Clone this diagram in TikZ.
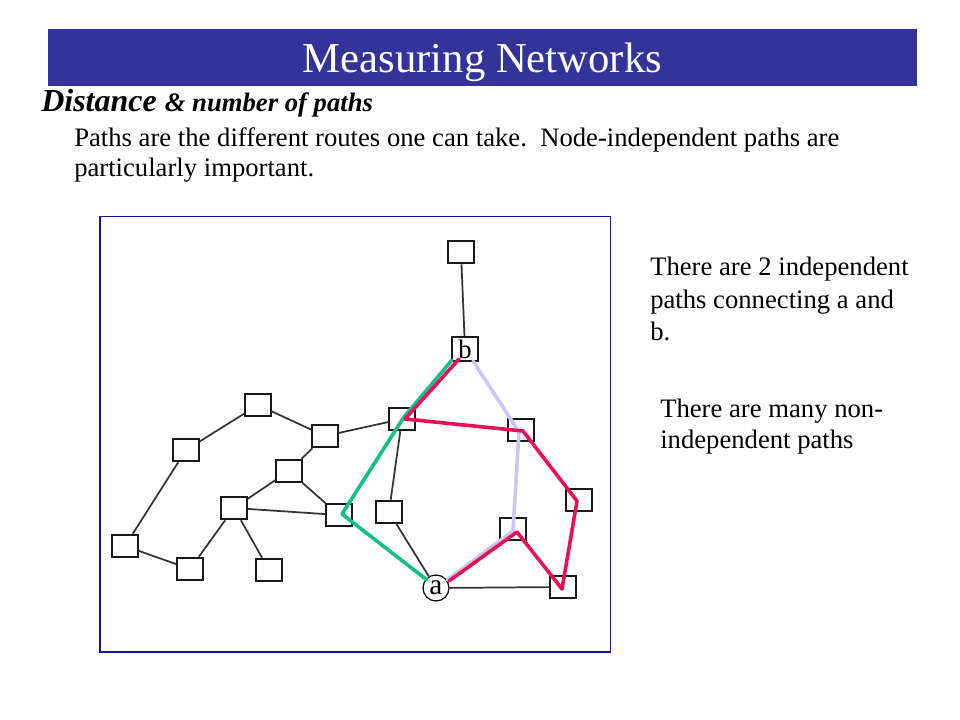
\documentclass[tikz,border=0pt]{standalone}
\usepackage{fontspec}
\setmainfont{Liberation Serif}
\definecolor{barblue}{RGB}{51,51,153}
\definecolor{framblue}{RGB}{20,20,150}
\definecolor{pgreen}{RGB}{22,190,140}
\definecolor{pred}{RGB}{232,16,90}
\definecolor{plav}{RGB}{200,200,240}
\begin{document}
\begin{tikzpicture}[x=0.75pt,y=-0.75pt,
  box/.style={draw=black!90,fill=white,line width=1.4pt,minimum width=19pt,minimum height=17pt,inner sep=0pt,font=\fontsize{20}{21}\selectfont},
  circ/.style={draw=black,fill=white,line width=0.9pt,circle,minimum size=19.5pt,inner sep=0pt,font=\fontsize{22}{23}\selectfont},
  edge/.style={draw=black!80,line width=1.3pt},
  pathline/.style={line width=2.7pt,line join=round,line cap=round},
  txt/.style={anchor=base west,inner sep=0pt}]
\useasboundingbox (0,0) rectangle (960,720);
\fill[white] (0,0) rectangle (960,720);
% title bar
\fill[barblue] (48,29) rectangle (917,86);
\node[anchor=base,inner sep=0pt,text=white,font=\fontsize{32}{38}\selectfont] (title) at (482.5,73) {Measuring Networks};
\node[txt,font=\bfseries\itshape] (sub) at (41,112) {{\fontsize{24}{28}\selectfont Distance}\hspace{6pt}{\fontsize{20}{24}\selectfont \& number of paths}};
\node[txt,font=\fontsize{20}{24}\selectfont] (body1) at (74,147) {Paths are the different routes one can take.\ \ Node-independent paths are};
\node[txt,font=\fontsize{20}{24}\selectfont] (body2) at (74,177) {particularly important.};
\node[txt,font=\fontsize{20}{24}\selectfont] (r1) at (650,276) {There are 2 independent};
\node[txt,font=\fontsize{20}{24}\selectfont] (r2) at (650,308) {paths connecting a and};
\node[txt,font=\fontsize{20}{24}\selectfont] (r3) at (650,340) {b.};
\node[txt,font=\fontsize{20}{24}\selectfont] (r4) at (660,417) {There are many non-};
\node[txt,font=\fontsize{20}{24}\selectfont] (r5) at (660,448) {independent paths};
% frame
\draw[framblue,line width=0.9pt] (100,216.5) rectangle (610.5,652);
% nodes
\node[box] (top) at (461,252) {};
\node[box,minimum height=17.5pt] (b) at (465,349) {b};
\node[box] (n1) at (258,405) {};
\node[box] (n2) at (186,450) {};
\node[box] (n3) at (325,436) {};
\node[box] (n4) at (289,471) {};
\node[box] (n5) at (234,508) {};
\node[box] (n6) at (339,515) {};
\node[box] (n7) at (125,546) {};
\node[box] (n8) at (190,569) {};
\node[box] (n9) at (269,570) {};
\node[box] (n10) at (402,419) {};
\node[box] (n11) at (521,430) {};
\node[box] (n12) at (389,512) {};
\node[box] (n13) at (579,500) {};
\node[box] (n14) at (513,529) {};
\node[box] (n15) at (563,587) {};
\node[circ] (a) at (436,588) {a};
% edges
\draw[edge] (n1)--(n2) (n1)--(n3) (n2)--(n7) (n7)--(n8) (n3)--(n4) (n3)--(n10)
  (n4)--(n5) (n4)--(n6) (n5)--(n6) (n5)--(n8) (n5)--(n9) (top)--(b)
  (n10)--(n12) (n12)--(a) (a)--(n15);
% path vertices
\coordinate (l0) at (447,580);
\coordinate (l1) at (513,531);
\coordinate (l2) at (519,432);
\coordinate (l3) at (473,361);
\coordinate (g0) at (452,360);
\coordinate (g1) at (404,417);
\coordinate (g2) at (342,514);
\coordinate (g3) at (427,580);
\coordinate (r0) at (449,581);
\coordinate (rr1) at (517,532);
\coordinate (rr2) at (562,589);
\coordinate (rr3) at (577,501);
\coordinate (rr4) at (523,431);
\coordinate (rr5) at (405,419);
\coordinate (rr6) at (459,359);
\draw[pathline,plav] (l0)--(l1)--(l2)--(l3);
\draw[pathline,pgreen] (g0)--(g1)--(g2)--(g3);
\draw[pathline,pred] (r0)--(rr1)--(rr2)--(rr3)--(rr4)--(rr5)--(rr6);
\end{tikzpicture}
\end{document}
